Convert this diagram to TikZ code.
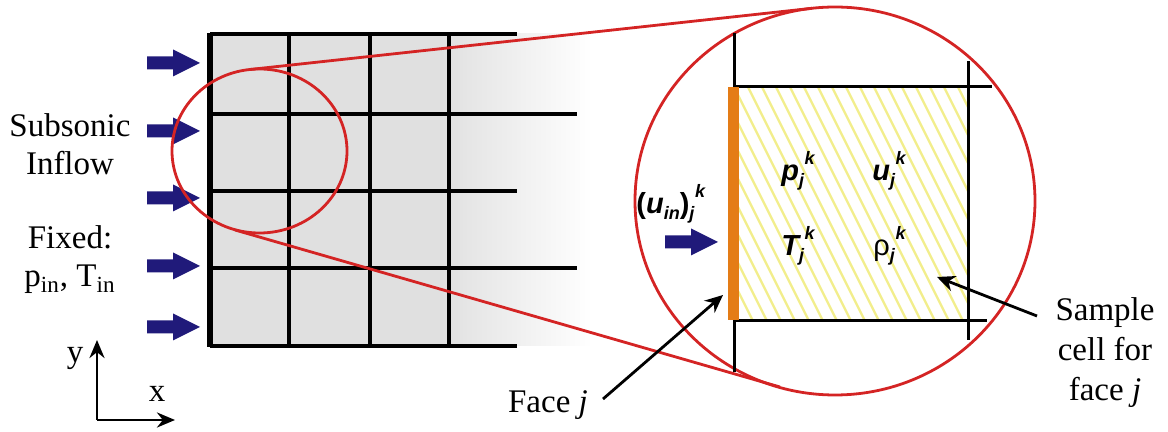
\documentclass[tikz,border=0pt]{standalone}
\usepackage{fontspec}
\setmainfont{Liberation Serif}
\newfontfamily\arialf{Liberation Sans}
\usetikzlibrary{arrows.meta}
\definecolor{navy}{RGB}{32,26,122}
\definecolor{redl}{RGB}{212,36,36}
\definecolor{orangebar}{RGB}{228,124,22}
\definecolor{hatchy}{RGB}{242,238,140}
\definecolor{gridgray}{RGB}{224,224,224}
\newcommand\symb[3]{\mbox{\fontsize{14.5}{14}\selectfont\arialf\bfseries\itshape #1\rlap{\raisebox{-3pt}{\fontsize{9}{9}\selectfont #2}}\kern2.8pt\raisebox{8pt}{\fontsize{9}{9}\selectfont #3}}}
\begin{document}
\begin{tikzpicture}[x=0.5pt,y=-0.5pt,
  blockarrow/.style={fill=navy, draw=none},
  gridline/.style={line width=1.6pt, black},
  cellline/.style={line width=1.5pt, black},
  redline/.style={line width=1.4pt, redl},
  pointer/.style={line width=1.4pt, black, -{Stealth[length=9pt,width=8pt]}},
  axis/.style={line width=1.4pt, black, -{Stealth[length=9pt,width=7.5pt]}},
  lbl/.style={font=\fontsize{16.5}{19}\selectfont, align=center, inner sep=0pt},
  sym/.style={anchor=base west, inner sep=0pt},
  inarrow/.pic={\fill[blockarrow] (-53,-6.5) -- (-27,-6.5) -- (-27,-13.5) -- (0,0)
      -- (-27,13.5) -- (-27,6.5) -- (-53,6.5) -- cycle;}]
\useasboundingbox (0,0) rectangle (1168,432);
% grid background
\fill[gridgray] (210,34) rectangle (440,346);
\shade[left color=gridgray,right color=white] (440,34) rectangle (592,346);
% grid lines
\foreach \y/\e in {34/517,114/577,191/517,268/577,346/517}
  \draw[gridline] (210,\y) -- (\e,\y);
\foreach \x in {289,370,449}
  \draw[gridline] (\x,34) -- (\x,346);
\draw[line width=2.6pt] (210,33) -- (210,347);
% inflow arrows
\foreach \y [count=\i] in {63,131,198,266,327}
  \pic (in\i) at (200,\y) {inarrow};
% left labels
\node[lbl] (subsonic) at (70,144) {Subsonic\\Inflow};
\node[lbl] (fixed) at (70,260) {Fixed:\\p\textsubscript{in}, T\textsubscript{in}};
% axes
\coordinate (origin) at (97,420);
\coordinate (yend) at (97,340);
\coordinate (xend) at (175,420);
\draw[axis] (origin) -- (yend);
\draw[axis] (origin) -- (xend);
\node[lbl] (ylab) at (75,358) {y};
\node[lbl] (xlab) at (157,394) {x};
% magnifier circles and tangents
\draw[redline] (259.5,151) ellipse [x radius=87.5, y radius=82];
\coordinate (t1a) at (249,69.6);
\coordinate (t1b) at (812,8.3);
\coordinate (t2a) at (235,230);
\coordinate (t2b) at (780,387);
\draw[redline] (t1a) -- (t1b);
\draw[redline] (t2a) -- (t2b);
\draw[redline] (835,201) ellipse [x radius=200, y radius=194];
% hatched sample cell
\begin{scope}
  \clip (739,87) rectangle (968,321);
  \foreach \i in {0,...,28}
    \draw[hatchy, line width=1.2pt] ({622+\i*14},87) -- ({739+\i*14},321);
\end{scope}
% cell lines
\draw[cellline] (734,33) -- (734,372);
\draw[cellline] (968,61) -- (968,340);
\draw[cellline] (734,87) -- (992,87);
\draw[cellline] (734,321) -- (987,321);
\fill[orangebar] (728,87) rectangle (739,320);
\coordinate (facept) at (723,295);
% symbols
\node[sym] (uin) at (636,214) {\mbox{\fontsize{14.5}{14}\selectfont\arialf\bfseries(\textit{u}\raisebox{-3pt}{\fontsize{9}{9}\selectfont\textit{in}})\rlap{\raisebox{-3pt}{\fontsize{9}{9}\selectfont\textit{j}}}\kern2.8pt\raisebox{8pt}{\fontsize{9}{9}\selectfont\textit{k}}}};
\node[sym] (pjk) at (781,181) {\symb{p}{j}{k}};
\node[sym] (ujk) at (872,181) {\symb{u}{j}{k}};
\node[sym] (Tjk) at (781,256) {\symb{T}{j}{k}};
\node[sym] (rjk) at (873,256) {\mbox{\fontsize{14.5}{14}\selectfont\arialf ρ\rlap{\raisebox{-3pt}{\fontsize{9}{9}\selectfont\bfseries\itshape j}}\kern2.8pt\raisebox{8pt}{\fontsize{9}{9}\selectfont\bfseries\itshape k}}};
\pic (inr) at (718,242) {inarrow};
% pointers
\node[lbl] (face) at (548,405) {Face \textit{j}};
\coordinate (facefrom) at (603,399);
\draw[pointer] (facefrom) -- (facept);
\node[lbl, font=\fontsize{16.5}{20}\selectfont] (sample) at (1105,353) {Sample\\cell for\\face \textit{j}};
\coordinate (samplefrom) at (1037,316);
\coordinate (samplept) at (937,277);
\draw[pointer] (samplefrom) -- (samplept);
\end{tikzpicture}
\end{document}
